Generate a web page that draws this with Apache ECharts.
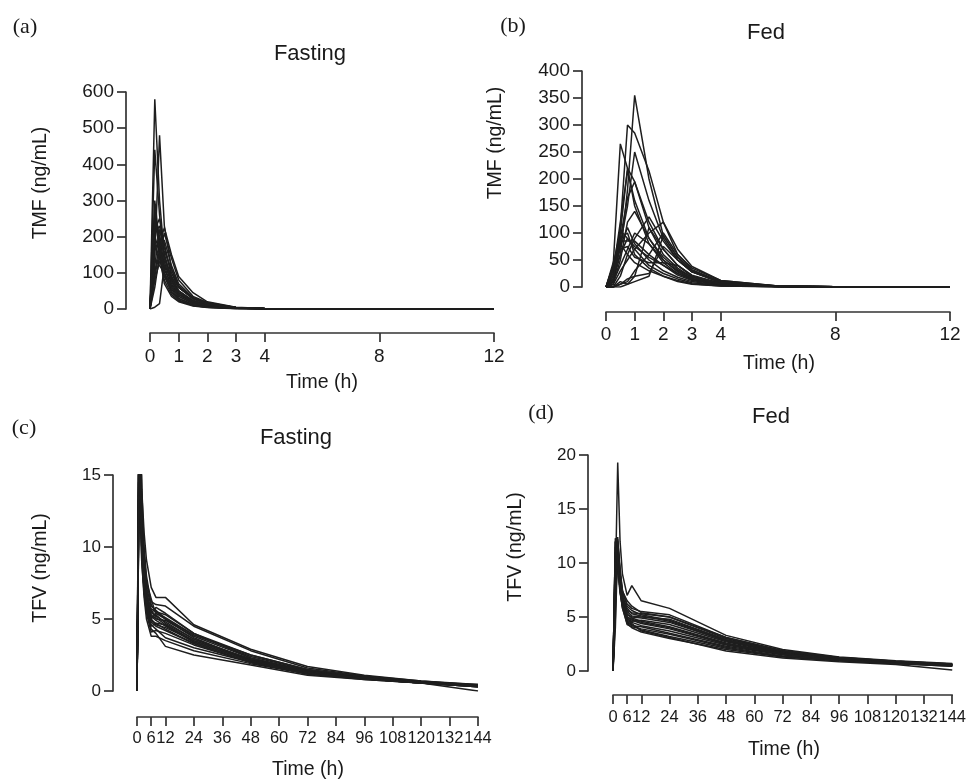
<!DOCTYPE html>
<html>
<head>
<meta charset="utf-8">
<script src="https://cdn.jsdelivr.net/npm/echarts@6/dist/echarts.min.js"></script>
<style>
html,body{margin:0;padding:0;background:#fff;}
#chart{width:969px;height:781px;}
</style>
</head>
<body>
<div id="chart"></div>
<script>
// ---------- DATA ----------
// (a) TMF, fasting
const tmfFastTimes = [0, 0.167, 0.333, 0.5, 0.75, 1, 1.5, 2, 3, 4, 6, 8, 12];
const tmfFastSubjects = [
  [0, 580, 300, 150, 80, 45, 20, 10, 3, 1, 0.5, 0.3, 0.1],
  [0, 150, 480, 230, 110, 60, 28, 14, 4, 1.5, 0.6, 0.3, 0.1],
  [0, 440, 260, 130, 70, 40, 18, 9, 3, 1, 0.4, 0.2, 0.1],
  [0, 260, 200, 120, 60, 35, 15, 8, 2, 0.8, 0.4, 0.2, 0.1],
  [0, 220, 250, 180, 90, 50, 22, 12, 3, 1, 0.5, 0.2, 0.1],
  [0, 100, 180, 225, 150, 90, 45, 20, 5, 1.5, 0.6, 0.3, 0.1],
  [0, 60, 150, 210, 140, 80, 35, 18, 4, 1.2, 0.5, 0.2, 0.1],
  [0, 300, 180, 100, 55, 30, 12, 6, 2, 0.7, 0.3, 0.2, 0.1],
  [0, 200, 160, 90, 50, 28, 12, 6, 2, 0.7, 0.3, 0.1, 0.05],
  [0, 120, 220, 170, 100, 60, 30, 15, 4, 1.2, 0.5, 0.2, 0.1],
  [0, 180, 140, 80, 40, 22, 10, 5, 1.5, 0.5, 0.2, 0.1, 0.05],
  [0, 240, 190, 110, 65, 40, 20, 10, 3, 1, 0.4, 0.2, 0.1],
  [0, 5, 15, 120, 90, 60, 30, 15, 4, 1.2, 0.5, 0.2, 0.1],
  [0, 160, 200, 150, 85, 50, 24, 11, 3, 1, 0.4, 0.2, 0.1],
  [0, 90, 160, 190, 120, 70, 32, 16, 4, 1.3, 0.5, 0.2, 0.1],
  [0, 280, 150, 70, 35, 20, 8, 4, 1, 0.4, 0.2, 0.1, 0.05],
  [0, 140, 120, 100, 60, 35, 16, 8, 2, 0.8, 0.3, 0.1, 0.05],
  [0, 210, 230, 140, 75, 45, 20, 9, 2.5, 0.9, 0.4, 0.2, 0.1],
  [0, 80, 130, 160, 110, 65, 28, 13, 3.5, 1.1, 0.4, 0.2, 0.1],
  [0, 250, 170, 95, 45, 25, 10, 5, 1.5, 0.5, 0.2, 0.1, 0.05]
];

// (b) TMF, fed
const tmfFedTimes = [0, 0.25, 0.5, 0.75, 1, 1.5, 2, 2.5, 3, 4, 6, 8, 12];
const tmfFedSubjects = [
  [0, 10, 60, 180, 355, 200, 95, 55, 30, 10, 2, 0.5, 0],
  [0, 20, 110, 300, 285, 215, 120, 60, 35, 12, 2, 0.5, 0],
  [0, 40, 265, 220, 150, 80, 45, 25, 14, 5, 1, 0.3, 0],
  [0, 5, 80, 150, 250, 160, 90, 50, 28, 9, 1.5, 0.4, 0],
  [0, 15, 100, 220, 195, 110, 60, 35, 18, 6, 1, 0.3, 0],
  [0, 30, 120, 215, 160, 90, 50, 28, 15, 5, 1, 0.3, 0],
  [0, 10, 90, 165, 195, 120, 70, 40, 20, 7, 1.2, 0.3, 0],
  [0, 0, 20, 60, 90, 130, 85, 50, 28, 9, 1.5, 0.4, 0],
  [0, 5, 30, 50, 70, 100, 120, 70, 38, 12, 2, 0.5, 0],
  [0, 0, 5, 10, 30, 60, 100, 60, 32, 10, 1.5, 0.4, 0],
  [0, 40, 105, 90, 75, 55, 40, 25, 14, 5, 1, 0.2, 0],
  [0, 45, 85, 85, 85, 60, 40, 22, 12, 4, 0.8, 0.2, 0],
  [0, 20, 75, 110, 80, 50, 30, 18, 10, 3, 0.6, 0.2, 0],
  [0, 0, 10, 5, 20, 110, 70, 40, 22, 7, 1.2, 0.3, 0],
  [0, 25, 60, 90, 70, 40, 25, 15, 8, 3, 0.5, 0.1, 0],
  [0, 10, 40, 70, 100, 80, 50, 30, 16, 5, 1, 0.2, 0],
  [0, 0, 5, 15, 20, 25, 75, 50, 28, 8, 1.2, 0.3, 0],
  [0, 30, 80, 60, 45, 30, 20, 12, 6, 2, 0.4, 0.1, 0],
  [0, 5, 50, 120, 140, 90, 55, 32, 18, 6, 1, 0.3, 0],
  [0, 15, 90, 100, 60, 35, 20, 10, 5, 2, 0.4, 0.1, 0],
  [0, 0, 0, 5, 10, 20, 95, 55, 30, 9, 1.5, 0.4, 0],
  [0, 35, 70, 75, 55, 45, 45, 40, 20, 6, 1, 0.2, 0]
];

// (c) TFV, fasting (peaks above the 15 ng/mL axis limit are clipped)
const tfvFastTimes = [0, 1, 2, 3, 4, 6, 8, 12, 24, 48, 72, 96, 120, 144];
const tfvFastSubjects = [
  [0, 22, 14, 11, 9.1, 7.2, 6.5, 6.5, 4.6, 2.9, 1.7, 1.1, 0.7, 0.45],
  [0, 18, 12, 9, 7.5, 6.2, 6.0, 5.9, 4.5, 2.8, 1.6, 1.05, 0.7, 0.4],
  [0, 20, 11, 8, 6.5, 5.7, 5.5, 5.3, 4.0, 2.5, 1.5, 1.0, 0.65, 0.4],
  [0, 16, 10, 7.5, 6.0, 5.3, 5.0, 4.9, 3.8, 2.3, 1.4, 0.95, 0.6, 0.35],
  [0, 24, 13, 9, 7.0, 5.0, 4.6, 4.4, 3.5, 2.2, 1.35, 0.9, 0.6, 0.35],
  [0, 17, 9, 6.5, 5.0, 3.8, 3.8, 3.5, 2.8, 1.9, 1.2, 0.85, 0.55, 0.3],
  [0, 19, 10, 7, 5.5, 4.3, 4.0, 3.1, 2.5, 1.8, 1.1, 0.8, 0.55, 0.0],
  [0, 21, 12, 8.5, 6.8, 5.6, 5.2, 4.8, 3.6, 2.2, 1.3, 0.9, 0.6, 0.4],
  [0, 15.5, 10, 7.8, 6.2, 5.0, 5.4, 5.0, 3.7, 2.1, 1.25, 0.85, 0.6, 0.35],
  [0, 23, 12, 8, 6.0, 4.8, 4.5, 4.2, 3.3, 2.0, 1.2, 0.85, 0.55, 0.3],
  [0, 18, 11, 8, 6.4, 5.2, 4.9, 4.5, 3.4, 2.1, 1.25, 0.85, 0.55, 0.35],
  [0, 20, 12, 9, 7.2, 5.9, 5.6, 5.0, 3.9, 2.4, 1.45, 0.95, 0.65, 0.4],
  [0, 16.5, 9.5, 7, 5.6, 4.5, 4.7, 4.6, 3.5, 2.2, 1.3, 0.9, 0.6, 0.4],
  [0, 25, 14, 10, 8.0, 6.0, 5.5, 5.1, 3.9, 2.5, 1.5, 1.0, 0.65, 0.45],
  [0, 17, 10, 7, 5.8, 4.6, 4.3, 3.7, 3.0, 2.0, 1.2, 0.85, 0.55, 0.3],
  [0, 19, 11, 8.2, 6.5, 5.4, 5.8, 5.4, 4.0, 2.3, 1.35, 0.9, 0.6, 0.35],
  [0, 22, 13, 9.5, 7.6, 6.4, 5.3, 4.7, 3.6, 2.2, 1.3, 0.9, 0.6, 0.4],
  [0, 15.2, 9, 6.8, 5.4, 4.1, 4.2, 4.0, 3.2, 2.0, 1.2, 0.85, 0.55, 0.35],
  [0, 20, 11.5, 8.6, 6.9, 5.5, 5.1, 4.6, 3.4, 2.1, 1.25, 0.9, 0.6, 0.35],
  [0, 18, 10.5, 7.6, 6.1, 4.9, 4.7, 4.3, 3.3, 2.0, 1.2, 0.8, 0.55, 0.3]
];

// (d) TFV, fed
const tfvFedTimes = [0, 1, 2, 3, 4, 6, 8, 12, 24, 48, 72, 96, 120, 144];
const tfvFedSubjects = [
  [0, 8, 19.3, 12, 9, 7.0, 7.9, 6.5, 5.8, 3.3, 2.0, 1.3, 0.95, 0.7],
  [0, 10, 12.2, 9, 7.2, 6.2, 5.8, 5.5, 5.2, 3.1, 1.9, 1.25, 0.9, 0.65],
  [0, 11.5, 10, 8, 6.5, 5.6, 5.4, 5.3, 5.0, 3.0, 1.8, 1.2, 0.85, 0.6],
  [0, 6, 11.8, 8.5, 6.8, 5.2, 5.0, 4.9, 4.5, 2.8, 1.7, 1.15, 0.85, 0.6],
  [0, 12, 9.5, 7.2, 6.0, 4.8, 4.6, 4.7, 4.3, 2.7, 1.65, 1.1, 0.8, 0.55],
  [0, 9, 11, 8, 6.3, 4.5, 4.2, 4.1, 3.5, 2.3, 1.5, 1.05, 0.8, 0.55],
  [0, 5, 12.4, 9, 7, 5.5, 5.1, 5.0, 4.8, 2.9, 1.75, 1.15, 0.85, 0.6],
  [0, 11, 10.5, 7.5, 5.8, 4.4, 4.0, 3.6, 3.0, 2.0, 1.3, 0.95, 0.7, 0.45],
  [0, 7, 10.8, 8.2, 6.4, 5.0, 4.7, 4.4, 3.9, 2.5, 1.55, 1.05, 0.75, 0.5],
  [0, 12.3, 11, 8.6, 6.9, 5.8, 5.3, 5.1, 4.6, 2.8, 1.7, 1.15, 0.8, 0.55],
  [0, 4, 11.5, 8.8, 6.6, 4.6, 4.3, 3.8, 3.2, 2.1, 1.35, 0.95, 0.7, 0.45],
  [0, 10.5, 9.8, 7.6, 6.1, 4.9, 4.5, 4.2, 3.7, 2.4, 1.5, 1.0, 0.75, 0.5],
  [0, 9.5, 12, 9.5, 7.5, 6.0, 5.6, 5.2, 4.7, 2.9, 1.8, 1.2, 0.85, 0.6],
  [0, 11, 10.2, 7.8, 6.2, 4.7, 4.4, 3.7, 3.1, 1.85, 1.2, 0.85, 0.6, 0.1],
  [0, 8.5, 11.2, 8.4, 6.7, 5.3, 4.9, 4.6, 4.1, 2.6, 1.6, 1.1, 0.8, 0.55],
  [0, 6.5, 10.6, 8.0, 6.3, 5.0, 4.8, 4.5, 4.0, 2.5, 1.55, 1.05, 0.75, 0.5],
  [0, 10, 11.6, 9.2, 7.4, 6.5, 6.0, 5.4, 5.0, 3.1, 1.85, 1.25, 0.9, 0.65],
  [0, 12, 10, 7.4, 5.9, 4.3, 4.1, 3.9, 3.4, 2.2, 1.4, 1.0, 0.7, 0.5]
];

// tick labels
const tmfTimeTicks = [0, 1, 2, 3, 4, 8, 12];
const tfvTimeTicks = [0, 6, 12, 24, 36, 48, 60, 72, 84, 96, 108, 120, 132, 144];

const panelTitles = ['Fasting', 'Fed', 'Fasting', 'Fed'];
const panelLetters = ['(a)', '(b)', '(c)', '(d)'];
const yNames = ['TMF (ng/mL)', 'TMF (ng/mL)', 'TFV (ng/mL)', 'TFV (ng/mL)'];
const xName = 'Time (h)';

// ---------- LAYOUT ----------
const SANS = '"Liberation Sans", Arial, Helvetica, sans-serif';
const SERIF = '"Liberation Serif", "Times New Roman", serif';
const AX = '#333';
const LINE = '#1e1e1e';
const TXT = '#1a1a1a';

const grids = [
  { left: 150, right: 475, top: 92, bottom: 472 },
  { left: 606, right: 19, top: 71, bottom: 494 },
  { left: 137, right: 491, top: 475, bottom: 90 },
  { left: 613, right: 15, top: 455, bottom: 110 }
];
const yCfg = [
  { max: 600, interval: 100, offset: 24, fs: 19 },
  { max: 400, interval: 50, offset: 24, fs: 19 },
  { max: 15, interval: 5, offset: 24, fs: 17 },
  { max: 20, interval: 5, offset: 25, fs: 17 }
];
const xCfg = [
  { max: 12, ticks: tmfTimeTicks, offset: 24, fs: 19, margin: 14 },
  { max: 12, ticks: tmfTimeTicks, offset: 25, fs: 19, margin: 13 },
  { max: 144, ticks: tfvTimeTicks, offset: 26, fs: 16.5, margin: 13 },
  { max: 144, ticks: tfvTimeTicks, offset: 24, fs: 16.5, margin: 14 }
];

const panels = [
  [tmfFastTimes, tmfFastSubjects],
  [tmfFedTimes, tmfFedSubjects],
  [tfvFastTimes, tfvFastSubjects],
  [tfvFedTimes, tfvFedSubjects]
];

const axisLine = { show: true, onZero: false, lineStyle: { color: AX, width: 1.7 } };

const xAxes = xCfg.map((c, i) => ({
  type: 'value', gridIndex: i, min: 0, max: c.max, offset: c.offset,
  axisLine: axisLine,
  axisTick: { show: true, length: 9, lineStyle: { color: AX, width: 1.7 }, customValues: c.ticks },
  axisLabel: { customValues: c.ticks, fontFamily: SANS, fontSize: c.fs, color: TXT, margin: c.margin, hideOverlap: false },
  splitLine: { show: false }
}));
const yAxes = yCfg.map((c, i) => ({
  type: 'value', gridIndex: i, min: 0, max: c.max, interval: c.interval, offset: c.offset,
  axisLine: axisLine,
  axisTick: { show: true, length: 9, lineStyle: { color: AX, width: 1.7 } },
  axisLabel: { fontFamily: SANS, fontSize: c.fs, color: TXT, margin: 12 },
  splitLine: { show: false }
}));

const series = [];
panels.forEach(([times, subjects], i) => {
  subjects.forEach((vals, k) => {
    series.push({
      type: 'line', xAxisIndex: i, yAxisIndex: i, name: 'S' + (k + 1),
      data: times.map((t, j) => [t, vals[j]]),
      symbol: 'none', clip: true, silent: true,
      lineStyle: { color: LINE, width: 1.5 }
    });
  });
});

// text positions
const titlePos = [[310, 54], [766, 33], [296, 438], [771, 417]];
const letterPos = [[25, 27], [513, 26], [24, 428], [541, 413]];
const yNamePos = [[41, 183], [496, 143], [41, 568], [516, 547]];
const xNamePos = [[322, 383], [779, 364], [308, 770], [784, 750]];

const graphic = [];
for (let i = 0; i < 4; i++) {
  graphic.push({ type: 'text', x: titlePos[i][0], y: titlePos[i][1],
    style: { text: panelTitles[i], fontFamily: SANS, fontSize: 22, fill: TXT, align: 'center', verticalAlign: 'middle' } });
  graphic.push({ type: 'text', x: letterPos[i][0], y: letterPos[i][1],
    style: { text: panelLetters[i], fontFamily: SERIF, fontSize: 22, fill: TXT, align: 'center', verticalAlign: 'middle' } });
  graphic.push({ type: 'text', x: yNamePos[i][0], y: yNamePos[i][1], rotation: Math.PI / 2,
    style: { text: yNames[i], fontFamily: SANS, fontSize: 19.5, fill: TXT, align: 'center', verticalAlign: 'middle' } });
  graphic.push({ type: 'text', x: xNamePos[i][0], y: xNamePos[i][1],
    style: { text: xName, fontFamily: SANS, fontSize: 19.5, fill: TXT, align: 'center', verticalAlign: 'middle' } });
}

const chart = echarts.init(document.getElementById('chart'), null, { renderer: 'canvas' });
chart.setOption({
  animation: false,
  backgroundColor: '#fff',
  grid: grids,
  xAxis: xAxes,
  yAxis: yAxes,
  series: series,
  graphic: graphic
});
</script>
</body>
</html>
